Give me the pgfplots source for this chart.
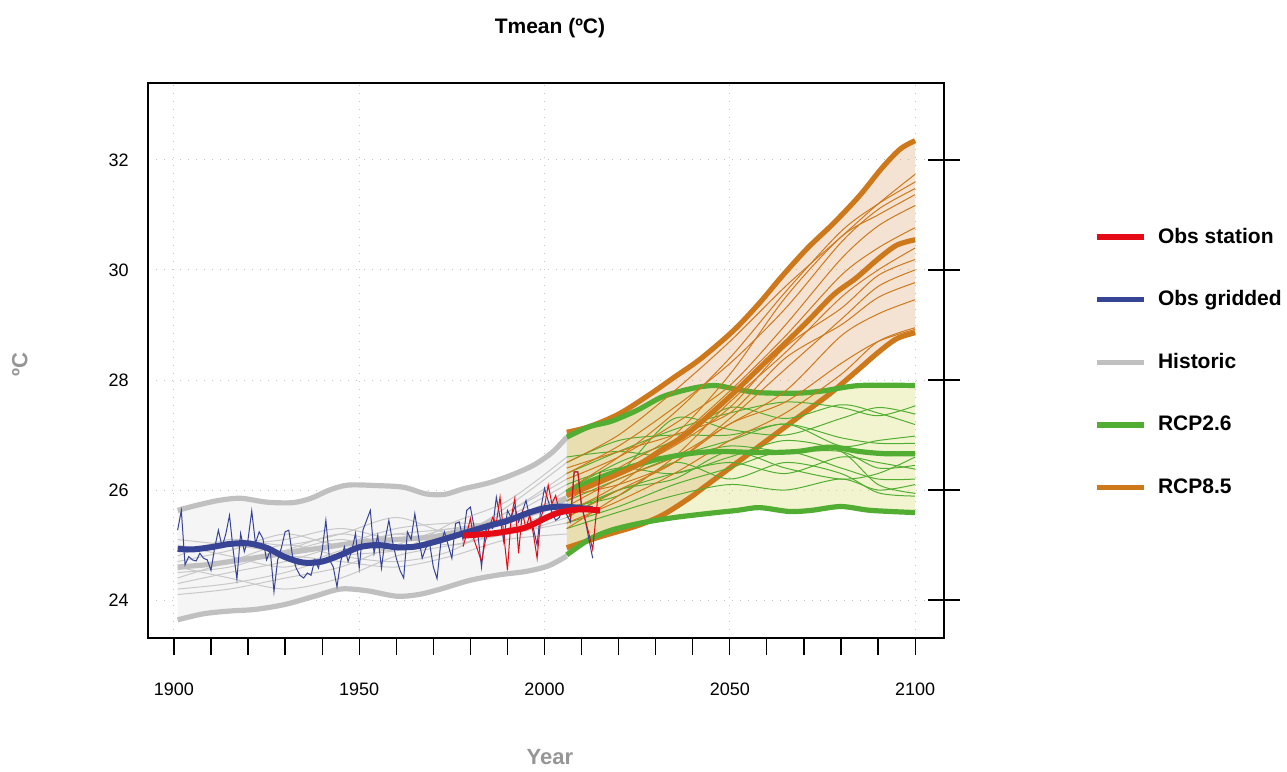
\documentclass[border=0pt]{standalone}
\usepackage{fontspec}
\setmainfont{Liberation Sans}
\usepackage{pgfplots}
\pgfplotsset{compat=1.18}
\usepgfplotslibrary{fillbetween}

\definecolor{obsred}{RGB}{228,10,22}
\definecolor{obsblue}{RGB}{55,68,150}
\definecolor{histgray}{RGB}{192,192,192}
\definecolor{thingray}{RGB}{200,200,200}
\definecolor{rcpgreen}{RGB}{82,174,50}
\definecolor{rcporange}{RGB}{206,120,28}
\definecolor{histfill}{RGB}{245,245,245}
\definecolor{fill85}{RGB}{211,139,79}
\definecolor{fill26}{RGB}{203,211,67}
\definecolor{labgray}{RGB}{150,150,150}

\begin{document}
\begin{tikzpicture}
\begin{axis}[
    set layers,
    clip=false,
    width=398pt, height=277.5pt, scale only axis,
    xmin=1893, xmax=2107.8, ymin=23.31, ymax=33.4,
    xtick={1900,1950,...,2100},
    minor xtick={1900,1910,...,2100},
    ytick={24,26,...,32},
    xtick pos=bottom, ytick pos=right, yticklabel pos=left,
    xtick align=outside, ytick align=center,
    xtick style={/pgfplots/major tick length=8.5pt, /pgfplots/minor tick length=8.5pt},
    ytick style={/pgfplots/major tick length=16pt},
    tick style={black, line width=0.6pt},
    axis line style={line width=0.8pt},
    grid=major,
    grid style={gray!45, line width=0.5pt, dash pattern=on 0.5pt off 3.5pt},
    ticklabel style={font=\fontsize{9}{11}\selectfont},
    xticklabel style={yshift=-14.5pt},
    yticklabel style={xshift=-4pt},
    /pgf/number format/assume math mode=true,
    /pgf/number format/1000 sep={},
    legend style={at={(axis description cs:1.188,0.747)}, anchor=north west,
        draw=none, fill=none, font=\bfseries\fontsize{10.5}{12}\selectfont,
        row sep=18.3pt, inner sep=0pt},
    legend cell align=left,
    legend image code/.code={\draw[line width=2.6pt,#1] (0pt,0pt) -- (23.5pt,0pt); \path (28.5pt,0pt);},
]

% ---- historic envelope (paths + fill) ----
\addplot[name path=hu, histgray, line width=2.6pt, smooth, forget plot] coordinates {
 (1901,25.63) (1906,25.72) (1912,25.81) (1918,25.85) (1925,25.78) (1932,25.77)
 (1937,25.85) (1942,26.0) (1947,26.09) (1955,26.08) (1962,26.05) (1968,25.93)
 (1973,25.92) (1978,26.02) (1985,26.13) (1991,26.27) (1997,26.45) (2002,26.68) (2006,26.96)};
\addplot[name path=hl, histgray, line width=2.6pt, smooth, forget plot] coordinates {
 (1901,23.64) (1908,23.75) (1915,23.8) (1922,23.83) (1930,23.92) (1938,24.07)
 (1945,24.2) (1952,24.17) (1960,24.07) (1966,24.1) (1972,24.2) (1980,24.36)
 (1988,24.46) (1995,24.52) (2001,24.62) (2006,24.8)};
\addplot[histfill, forget plot] fill between[of=hu and hl];

% ---- RCP8.5 envelope ----
\addplot[name path=ou, rcporange, line width=2.6pt, smooth, forget plot] coordinates {
 (2006,27.05) (2012,27.15) (2020,27.38) (2028,27.72) (2035,28.05) (2042,28.38)
 (2051,28.9) (2058,29.4) (2064,29.88) (2071,30.4) (2078,30.85) (2085,31.35)
 (2091,31.85) (2096,32.2) (2100,32.35)};
\addplot[name path=ol, rcporange, line width=2.6pt, smooth, forget plot] coordinates {
 (2006,24.95) (2015,25.15) (2025,25.35) (2032,25.55) (2039,25.85) (2043,26.05)
 (2050,26.4) (2058,26.8) (2069,27.35) (2077,27.75) (2084,28.15) (2090,28.5)
 (2095,28.75) (2100,28.86)};
\addplot[fill=fill85, fill opacity=0.25, forget plot] fill between[of=ou and ol];

% ---- RCP2.6 envelope ----
\addplot[name path=gu, rcpgreen, line width=2.6pt, smooth, forget plot] coordinates {
 (2006,26.96) (2012,27.15) (2018,27.25) (2025,27.45) (2032,27.7) (2040,27.85)
 (2046,27.9) (2052,27.83) (2058,27.77) (2068,27.76) (2075,27.8) (2085,27.9) (2100,27.9)};
\addplot[name path=gl, rcpgreen, line width=2.6pt, smooth, forget plot] coordinates {
 (2006,24.82) (2012,25.1) (2018,25.27) (2026,25.4) (2035,25.5) (2045,25.58)
 (2052,25.63) (2058,25.68) (2066,25.61) (2072,25.63) (2080,25.7) (2088,25.63) (2100,25.59)};
\addplot[fill=fill26, fill opacity=0.25, forget plot] fill between[of=gu and gl];

% ---- historic members ----
\foreach \yy in {
 {(1901,24.9) (1915,25.0) (1930,25.1) (1945,25.3) (1960,25.1) (1975,25.2) (1990,25.6) (2006,26.3)},
 {(1901,24.7) (1915,24.9) (1930,25.2) (1945,25.0) (1960,25.2) (1975,25.3) (1990,25.5) (2006,25.9)},
 {(1901,24.5) (1915,24.6) (1930,24.9) (1945,25.2) (1960,25.0) (1975,25.1) (1990,25.7) (2006,26.5)},
 {(1901,24.3) (1915,24.5) (1930,24.7) (1945,25.0) (1960,25.3) (1975,25.4) (1990,25.4) (2006,25.8)},
 {(1901,25.0) (1915,24.8) (1930,24.6) (1945,24.9) (1960,25.2) (1975,25.0) (1990,25.3) (2006,26.0)},
 {(1901,24.2) (1915,24.3) (1930,24.5) (1945,24.8) (1960,24.9) (1975,25.2) (1990,25.6) (2006,26.2)},
 {(1901,24.6) (1915,24.4) (1930,24.2) (1945,24.4) (1960,24.8) (1975,25.0) (1990,25.2) (2006,25.4)},
 {(1901,24.8) (1915,25.1) (1930,25.0) (1945,25.2) (1960,25.5) (1975,25.2) (1990,25.3) (2006,25.7)},
 {(1901,24.4) (1915,24.7) (1930,25.0) (1945,24.8) (1960,24.7) (1975,24.9) (1990,25.5) (2006,26.1)},
 {(1901,24.1) (1915,24.2) (1930,24.4) (1945,24.6) (1960,25.0) (1975,25.3) (1990,25.2) (2006,25.5)},
 {(1901,25.1) (1915,25.0) (1930,24.9) (1945,25.1) (1960,24.9) (1975,25.4) (1990,25.8) (2006,26.6)},
 {(1901,24.55) (1915,24.7) (1930,24.8) (1945,24.7) (1960,24.6) (1975,24.8) (1990,25.1) (2006,25.2)}}{
  \addplot[thingray, line width=0.5pt, smooth, forget plot] coordinates \yy;
}
\addplot[histgray, line width=2.6pt, smooth, forget plot] coordinates {
 (1901,24.6) (1910,24.65) (1920,24.75) (1930,24.85) (1940,24.95) (1950,25.05)
 (1960,25.1) (1970,25.15) (1980,25.3) (1990,25.45) (2000,25.65) (2006,25.85)};

% ---- RCP2.6 members ----
\foreach \yy in {
 {(2006,26.3) (2020,26.7) (2035,27.1) (2050,27.4) (2065,27.6) (2080,27.5) (2090,27.35) (2100,27.53)},
 {(2006,26.0) (2020,26.5) (2035,26.9) (2050,27.5) (2065,27.3) (2080,27.55) (2090,27.4) (2100,27.19)},
 {(2006,25.8) (2020,26.2) (2035,26.6) (2050,26.9) (2065,27.2) (2080,26.8) (2090,26.9) (2100,26.98)},
 {(2006,26.5) (2020,26.9) (2035,27.0) (2050,27.0) (2065,27.2) (2080,26.95) (2090,26.85) (2100,26.85)},
 {(2006,25.6) (2020,26.0) (2035,26.3) (2050,26.5) (2065,26.3) (2080,26.6) (2090,26.5) (2100,26.38)},
 {(2006,25.4) (2020,25.7) (2035,26.1) (2050,26.4) (2065,26.7) (2080,26.4) (2090,26.2) (2100,26.2)},
 {(2006,26.1) (2020,26.4) (2035,26.3) (2050,26.6) (2065,26.9) (2080,26.7) (2090,26.1) (2100,25.94)},
 {(2006,25.7) (2020,25.9) (2035,26.5) (2050,26.2) (2065,26.5) (2080,26.3) (2090,25.95) (2100,25.89)},
 {(2006,25.5) (2020,26.0) (2035,26.2) (2050,26.7) (2065,26.4) (2080,26.2) (2090,26.3) (2100,26.6)},
 {(2006,26.6) (2020,26.7) (2035,26.6) (2050,26.8) (2065,26.7) (2080,26.7) (2090,26.4) (2100,26.45)},
 {(2006,25.9) (2020,26.3) (2035,27.3) (2050,27.1) (2065,27.0) (2080,27.3) (2090,27.5) (2100,27.38)},
 {(2006,25.3) (2020,25.6) (2035,25.9) (2050,26.1) (2065,26.0) (2080,26.2) (2090,26.0) (2100,26.1)}}{
  \addplot[rcpgreen, line width=0.5pt, smooth, forget plot] coordinates \yy;
}

% ---- RCP8.5 members ----
\foreach \yy in {
 {(2006,26.5) (2020,27.0) (2035,27.8) (2050,28.7) (2065,29.7) (2080,30.6) (2090,31.2) (2100,31.74)},
 {(2006,26.0) (2020,26.6) (2035,27.4) (2050,28.4) (2065,29.6) (2080,30.7) (2090,31.2) (2100,31.6)},
 {(2006,26.3) (2020,26.8) (2035,27.5) (2050,28.3) (2065,29.3) (2080,30.5) (2090,31.1) (2100,31.48)},
 {(2006,25.8) (2020,26.4) (2035,27.0) (2050,28.1) (2065,29.5) (2080,30.6) (2090,31.0) (2100,31.37)},
 {(2006,26.2) (2020,26.6) (2035,27.2) (2050,27.9) (2065,29.0) (2080,30.2) (2090,30.8) (2100,31.17)},
 {(2006,25.6) (2020,26.1) (2035,26.9) (2050,27.8) (2065,28.8) (2080,29.9) (2090,30.4) (2100,30.77)},
 {(2006,26.0) (2020,26.3) (2035,26.8) (2050,27.5) (2065,28.6) (2080,29.3) (2090,29.9) (2100,30.19)},
 {(2006,25.5) (2020,26.0) (2035,26.5) (2050,27.3) (2065,28.2) (2080,29.1) (2090,29.7) (2100,30.0)},
 {(2006,26.4) (2020,26.7) (2035,27.0) (2050,27.4) (2065,28.4) (2080,29.0) (2090,29.5) (2100,29.77)},
 {(2006,25.7) (2020,26.2) (2035,26.6) (2050,27.2) (2065,27.8) (2080,28.8) (2090,29.2) (2100,29.46)},
 {(2006,25.4) (2020,25.8) (2035,26.3) (2050,26.9) (2065,27.4) (2080,28.1) (2090,28.7) (2100,28.95)},
 {(2006,25.9) (2020,26.1) (2035,26.5) (2050,27.2) (2065,27.6) (2080,28.3) (2090,28.7) (2100,28.92)},
 {(2006,25.3) (2020,25.9) (2035,26.6) (2050,27.6) (2065,28.5) (2080,29.5) (2090,30.0) (2100,30.4)}}{
  \addplot[rcporange, line width=0.5pt, smooth, forget plot] coordinates \yy;
}

% ---- ensemble means ----
\addplot[rcpgreen, line width=2.6pt, smooth, forget plot] coordinates {
 (2006,25.95) (2012,26.15) (2020,26.35) (2030,26.55) (2040,26.67) (2048,26.7)
 (2058,26.68) (2068,26.7) (2077,26.78) (2085,26.7) (2092,26.66) (2100,26.66)};
\addplot[rcporange, line width=2.6pt, smooth, forget plot] coordinates {
 (2006,25.9) (2015,26.15) (2025,26.45) (2032,26.75) (2039,27.05) (2050,27.7)
 (2060,28.35) (2070,29.0) (2078,29.55) (2084,29.85) (2090,30.2) (2095,30.45) (2100,30.55)};

% ---- observations ----
\addplot[obsblue, line width=0.5pt, forget plot] coordinates {
 (1901,25.27) (1902,25.63) (1903,24.64) (1904,24.79) (1905,24.73) (1906,24.71)
 (1907,24.85) (1908,24.76) (1909,24.73) (1910,24.54) (1911,24.95) (1912,25.27)
 (1913,24.97) (1914,25.2) (1915,25.54) (1916,24.9) (1917,24.38) (1918,25.21)
 (1919,24.88) (1920,25.1) (1921,25.62) (1922,25.03) (1923,25.24) (1924,25.12)
 (1925,24.73) (1926,24.9) (1927,24.15) (1928,24.73) (1929,24.95) (1930,25.24)
 (1931,25.27) (1932,24.8) (1933,24.58) (1934,24.45) (1935,24.4) (1936,24.49)
 (1937,24.45) (1938,24.73) (1939,24.58) (1940,24.9) (1941,25.45) (1942,24.73)
 (1943,24.6) (1944,24.24) (1945,24.7) (1946,24.97) (1947,24.7) (1948,24.9)
 (1949,25.21) (1950,24.58) (1951,25.27) (1952,25.45) (1953,25.63) (1954,24.85)
 (1955,25.18) (1956,24.58) (1957,25.1) (1958,25.45) (1959,25.06) (1960,24.76)
 (1961,24.54) (1962,24.4) (1963,25.24) (1964,25.1) (1965,25.57) (1966,25.15)
 (1967,24.76) (1968,24.95) (1969,25.03) (1970,24.6) (1971,24.39) (1972,25.03)
 (1973,25.24) (1974,25.0) (1975,24.76) (1976,25.39) (1977,25.42) (1978,25.1)
 (1979,25.63) (1980,25.69) (1981,25.33) (1982,25.2) (1983,24.6) (1984,25.24)
 (1985,25.35) (1986,25.3) (1987,25.87) (1988,25.5) (1989,25.06) (1990,25.63)
 (1991,25.5) (1992,25.7) (1993,25.42) (1994,25.6) (1995,25.81) (1996,25.51)
 (1997,25.3) (1998,25.0) (1999,25.66) (2000,26.03) (2001,25.8) (2002,25.6)
 (2003,25.45) (2004,25.5) (2005,25.7) (2006,25.55) (2007,25.42) (2008,26.33)
 (2009,26.33) (2010,25.7) (2011,25.45) (2012,25.1) (2013,24.76)};
\addplot[obsred, line width=0.5pt, forget plot] coordinates {
 (1978,24.97) (1979,25.2) (1980,25.48) (1981,25.09) (1982,24.9) (1983,24.7)
 (1984,25.06) (1985,25.3) (1986,25.5) (1987,25.4) (1988,25.87) (1989,25.2)
 (1990,24.54) (1991,25.5) (1992,25.85) (1993,24.85) (1994,25.6) (1995,25.3)
 (1996,25.55) (1997,25.2) (1998,24.76) (1999,25.5) (2000,25.7) (2001,26.09)
 (2002,25.75) (2003,25.9) (2004,25.6) (2005,25.65) (2006,25.7) (2007,25.5)
 (2008,26.33) (2009,26.33) (2010,25.7) (2011,25.45) (2012,25.2) (2013,24.92)
 (2014,25.6) (2015,26.33)};
\addplot[obsblue, line width=3pt, smooth, forget plot] coordinates {
 (1901,24.93) (1905,24.92) (1910,24.96) (1915,25.02) (1920,25.03) (1925,24.95)
 (1930,24.78) (1935,24.68) (1940,24.7) (1945,24.82) (1950,24.96) (1955,25.0)
 (1960,24.96) (1965,24.97) (1970,25.05) (1975,25.15) (1980,25.25) (1985,25.35)
 (1990,25.44) (1995,25.57) (2000,25.67) (2005,25.7) (2010,25.67) (2013,25.65)};
\addplot[obsred, line width=3pt, smooth, forget plot] coordinates {
 (1978,25.17) (1982,25.19) (1986,25.21) (1990,25.25) (1994,25.3) (1997,25.38)
 (2000,25.48) (2003,25.57) (2006,25.62) (2010,25.65) (2015,25.63)};

% ---- legend ----
\addlegendimage{obsred}\addlegendentry{Obs station}
\addlegendimage{obsblue}\addlegendentry{Obs gridded}
\addlegendimage{histgray}\addlegendentry{Historic}
\addlegendimage{rcpgreen}\addlegendentry{RCP2.6}
\addlegendimage{rcporange}\addlegendentry{RCP8.5}

% ---- titles ----
\node[font=\bfseries\fontsize{10.5}{12}\selectfont] at (axis description cs:0.505,1.098) {Tmean (ºC)};
\node[font=\bfseries\fontsize{11}{13}\selectfont, text=labgray, rotate=90] at (axis description cs:-0.161,0.492) {ºC};
\node[font=\bfseries\fontsize{11}{13}\selectfont, text=labgray] at (axis description cs:0.505,-0.214) {Year};
\path (axis description cs:-0.1859,-0.2288) rectangle (axis description cs:1.4309,1.1495);
\end{axis}
\end{tikzpicture}
\end{document}
